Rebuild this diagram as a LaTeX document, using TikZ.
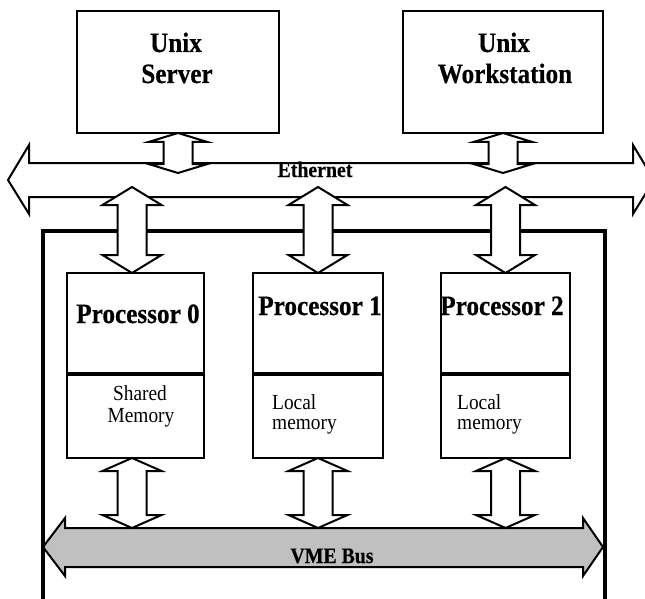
\documentclass[tikz,border=0pt]{standalone}
\usepackage{fontspec}
\usetikzlibrary{calc}
\newfontfamily\figfont{Liberation Serif}[FakeStretch=0.9, BoldFeatures={FakeBold=0.4}]

% vertical double block arrow: #1 top tip, #2 bottom tip, #3 head length
\newcommand\vblock[3]{%
  \path[blk] let \p1=(#1), \p2=(#2) in
    (\x1,\y1) -- (\x1+29.5pt,\y1-#3) -- (\x1+14.5pt,\y1-#3) --
    (\x1+14.5pt,\y2+#3) -- (\x1+29.5pt,\y2+#3) -- (\x1,\y2) --
    (\x1-29.5pt,\y2+#3) -- (\x1-14.5pt,\y2+#3) -- (\x1-14.5pt,\y1-#3) --
    (\x1-29.5pt,\y1-#3) -- cycle;}

\tikzset{
  box/.style={draw, fill=white, line width=2pt, inner sep=0pt, outer sep=0pt},
  blk/.style={draw, fill=white, line width=2pt, line join=miter},
  bus/.style={draw, line width=2pt, line join=miter},
  frame/.style={draw, line width=4pt, line join=miter},
  bigtxt/.style={font=\figfont\fontsize{28}{30}\selectfont\bfseries, anchor=base, inner sep=0pt},
  memtxt/.style={font=\figfont\fontsize{21.5}{22}\selectfont, anchor=base, inner sep=0pt},
  bustxt/.style={font=\figfont\fontsize{22}{24}\selectfont\bfseries, anchor=base, inner sep=0pt},
}

\begin{document}
\begin{tikzpicture}[x=1pt, y=-1pt]
\useasboundingbox (0,0) rectangle (645,599);

% Ethernet
\path[bus, fill=white] (8,180) -- (29,145) -- (29,163) -- (633,163) -- (633,145) -- (654,180)
  -- (633,214) -- (633,197) -- (29,197) -- (29,214) -- cycle;
\coordinate (ethTop) at (0,173);
\coordinate (ethBot) at (0,187);

% VME bus
\path[bus, fill={rgb,255:red,192;green,192;blue,192}] (43,547) -- (65,518) -- (65,528) -- (583,528)
  -- (583,518) -- (603,547) -- (583,576) -- (583,567) -- (65,567) -- (65,576) -- cycle;
\coordinate (vmeTop) at (0,528);

% chassis outline
\path[frame] (43,612) -- (43,231) -- (605,231) -- (605,612);

% hosts
\node[box, minimum width=202, minimum height=122] (srv) at (178,72) {};
\node[box, minimum width=200, minimum height=122] (wks) at (503,72) {};

% processor boards
\node[box, minimum width=137, minimum height=100] (p0) at (135.5,323) {};
\node[box, minimum width=137, minimum height=83] (m0) at (135.5,416.5) {};
\node[box, minimum width=130, minimum height=100] (p1) at (318,323) {};
\node[box, minimum width=130, minimum height=83] (m1) at (318,416.5) {};
\node[box, minimum width=129, minimum height=100] (p2) at (505.5,323) {};
\node[box, minimum width=129, minimum height=83] (m2) at (505.5,416.5) {};

% Processor 0 links sit a little left of the board centre
\coordinate (p0up) at ($(p0.north)+(-3.5,0)$);
\coordinate (p0dn) at ($(m0.south)+(-3.5,0)$);

% links
\vblock{srv.south}{srv.south |- ethTop}{9pt}
\vblock{wks.south}{wks.south |- ethTop}{9pt}
\vblock{p0up |- ethBot}{p0up}{18pt}
\vblock{p1.north |- ethBot}{p1.north}{18pt}
\vblock{p2.north |- ethBot}{p2.north}{18pt}
\vblock{p0dn}{p0dn |- vmeTop}{13pt}
\vblock{m1.south}{m1.south |- vmeTop}{13pt}
\vblock{m2.south}{m2.south |- vmeTop}{13pt}

% labels
\node[bigtxt] (srvA) at (176,52) {Unix};
\node[bigtxt] (srvB) at (177,83) {Server};
\node[bigtxt] (wksA) at (504,52) {Unix};
\node[bigtxt] (wksB) at (505,83) {Workstation};
\node[bigtxt] (p0t) at (138,323) {Processor 0};
\node[bigtxt] (p1t) at (320,315) {Processor 1};
\node[bigtxt] (p2t) at (502,315) {Processor 2};
\node[memtxt] (m0a) at (140,400) {Shared};
\node[memtxt] (m0b) at (141,422) {Memory};
\node[memtxt, anchor=base west] (m1a) at (272,409) {Local};
\node[memtxt, anchor=base west] (m1b) at (272,429) {memory};
\node[memtxt, anchor=base west] (m2a) at (457,409) {Local};
\node[memtxt, anchor=base west] (m2b) at (457,429) {memory};
\node[bustxt] (eth) at (315,177) {Ethernet};
\node[bustxt] (vme) at (332,563) {VME Bus};
\end{tikzpicture}
\end{document}
